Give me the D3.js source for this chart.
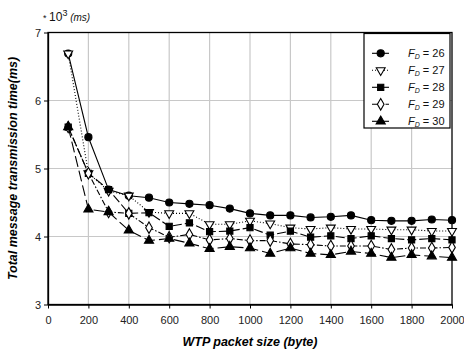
<!DOCTYPE html>
<html>
<head>
<meta charset="utf-8">
<script src="https://cdn.jsdelivr.net/npm/d3@7"></script>
<style>
  body { margin: 0; background: #fff; }
  svg { font-family: "Liberation Sans", Arial, sans-serif; }
</style>
</head>
<body>
<svg id="chart"></svg>
<script>
// packet sizes (byte)
var sizes = [100, 200, 300, 400, 500, 600, 700, 800, 900, 1000,
             1100, 1200, 1300, 1400, 1500, 1600, 1700, 1800, 1900, 2000];
// total transmission time, * 10^3 ms
var fd26 = [6.69, 5.46, 4.69, 4.60, 4.57, 4.50, 4.48, 4.46, 4.41, 4.34,
            4.31, 4.31, 4.28, 4.29, 4.31, 4.24, 4.23, 4.23, 4.25, 4.24];
var fd27 = [6.69, 4.93, 4.67, 4.60, 4.36, 4.34, 4.34, 4.18, 4.18, 4.23,
            4.19, 4.13, 4.11, 4.13, 4.11, 4.11, 4.10, 4.10, 4.08, 4.08];
var fd28 = [5.61, 4.93, 4.69, 4.34, 4.35, 4.15, 4.20, 4.07, 4.08, 4.13,
            4.02, 4.08, 3.99, 4.01, 3.97, 4.01, 3.97, 3.95, 3.97, 3.95];
var fd29 = [5.61, 4.93, 4.36, 4.34, 4.13, 3.99, 4.03, 3.95, 3.97, 3.94,
            3.94, 3.89, 3.88, 3.86, 3.86, 3.86, 3.81, 3.83, 3.83, 3.84];
var fd30 = [5.61, 4.40, 4.36, 4.09, 3.94, 3.97, 3.90, 3.82, 3.85, 3.83,
            3.75, 3.83, 3.75, 3.73, 3.78, 3.75, 3.69, 3.73, 3.71, 3.69];
var fdLabels = ["26", "27", "28", "29", "30"];
var xTicks = [0, 200, 400, 600, 800, 1000, 1200, 1400, 1600, 1800, 2000];
var yTicks = [3, 4, 5, 6, 7];

var svg = d3.select("#chart"),
    margin = {top: 32.5, right: 12, bottom: 49.5, left: 48},
    width = 464 - margin.left - margin.right,
    height = 354 - margin.top - margin.bottom;
svg.attr("width", 464).attr("height", 354);
var g = svg.append("g").attr("transform", "translate(" + margin.left + "," + margin.top + ")");

var x = d3.scaleLinear().domain([0, 2000]).range([0, width]),
    y = d3.scaleLinear().domain([3, 7]).range([height, 0]);

// gridlines
g.selectAll(".vgrid").data(xTicks.slice(1, -1)).enter().append("line")
    .attr("x1", function(d) { return x(d); }).attr("x2", function(d) { return x(d); })
    .attr("y1", 0).attr("y2", height)
    .attr("stroke", "#c8c8c8").attr("stroke-width", 1.2);
g.selectAll(".hgrid").data(yTicks.slice(1, -1)).enter().append("line")
    .attr("x1", 0).attr("x2", width)
    .attr("y1", function(d) { return y(d); }).attr("y2", function(d) { return y(d); })
    .attr("stroke", "#c8c8c8").attr("stroke-width", 1.2);

// frame
g.append("rect").attr("width", width).attr("height", height)
    .attr("fill", "none").attr("stroke", "#000").attr("stroke-width", 1.3);

var xAxis = d3.axisBottom(x).tickValues(xTicks).tickFormat(d3.format("d")).tickSize(4).tickSizeOuter(0);
var yAxis = d3.axisLeft(y).tickValues(yTicks).tickFormat(d3.format("d")).tickSize(4).tickSizeOuter(0);
var xg = g.append("g").attr("transform", "translate(0," + height + ")").call(xAxis);
var yg = g.append("g").call(yAxis);
[xg, yg].forEach(function(a) {
  a.select(".domain").attr("stroke", "#000").attr("stroke-width", 1.3);
  a.selectAll(".tick line").attr("stroke", "#000");
  a.selectAll(".tick text").attr("fill", "#222").style("font-size", "11px");
});
xg.selectAll(".tick text").attr("dy", "1.1em");
yg.selectAll(".tick text").attr("x", -7);

// series
var series = [
  {id: fdLabels[0], values: fd26, dash: null, sym: d3.symbolCircle, size: 40, fill: "#000", rot: 0},
  {id: fdLabels[1], values: fd27, dash: "1,2", sym: d3.symbolTriangle, size: 34, fill: "#fff", rot: 180},
  {id: fdLabels[2], values: fd28, dash: "9,3", sym: d3.symbolSquare, size: 38, fill: "#000", rot: 0},
  {id: fdLabels[3], values: fd29, dash: "6,2,1.5,2", sym: d3.symbolDiamond, size: 38, fill: "#fff", rot: 0},
  {id: fdLabels[4], values: fd30, dash: "11,4", sym: d3.symbolTriangle, size: 36, fill: "#000", rot: 0}
];

var line = d3.line()
    .x(function(d, i) { return x(sizes[i]); })
    .y(function(d) { return y(d); });

var sg = g.selectAll(".series").data(series).enter().append("g").attr("class", "series");
sg.append("path")
    .attr("d", function(d) { return line(d.values); })
    .attr("fill", "none").attr("stroke", "#000").attr("stroke-width", 1.1)
    .attr("stroke-dasharray", function(d) { return d.dash; });
sg.each(function(s) {
  d3.select(this).selectAll(".pt").data(s.values).enter().append("path")
      .attr("d", d3.symbol().type(s.sym).size(s.size))
      .attr("transform", function(d, i) {
        return "translate(" + x(sizes[i]) + "," + y(d) + ") rotate(" + s.rot + ")";
      })
      .attr("fill", s.fill).attr("stroke", "#000").attr("stroke-width", 1.1);
});

// legend
var lg = svg.append("g").attr("transform", "translate(364,33.5)");
lg.append("rect").attr("width", 86).attr("height", 94.5)
    .attr("fill", "#fff").attr("stroke", "#000").attr("stroke-width", 1.2);
var item = lg.selectAll(".item").data(series).enter().append("g")
    .attr("transform", function(d, i) { return "translate(0," + (19.8 + i * 17) + ")"; });
item.append("line").attr("x1", 8).attr("x2", 25)
    .attr("stroke", "#000").attr("stroke-width", 1.1)
    .attr("stroke-dasharray", function(d) { return d.dash === "1,2" ? "1,2" : d.dash === "6,2,1.5,2" ? "8,2,1.5,2" : null; });
item.append("path")
    .attr("d", function(d) { return d3.symbol().type(d.sym).size(d.size)(); })
    .attr("transform", function(d) { return "translate(16.7,0) rotate(" + d.rot + ")"; })
    .attr("fill", function(d) { return d.fill; }).attr("stroke", "#000").attr("stroke-width", 1.1);
var lt = item.append("text").attr("x", 44).attr("dy", "0.35em")
    .style("font-size", "11px").attr("fill", "#111");
lt.append("tspan").style("font-style", "italic").text("F");
lt.append("tspan").style("font-style", "italic").style("font-size", "7px").attr("dy", "2").text("D");
lt.append("tspan").attr("dy", "-2").text(function(d) { return " = " + d.id; });

// unit note
var unit = svg.append("text").attr("x", 43).attr("y", 21).attr("fill", "#111").style("font-size", "12px");
unit.append("tspan").style("font-size", "9px").text("* ");
unit.append("tspan").text("10");
unit.append("tspan").style("font-size", "9px").attr("dy", "-5").text("3");
unit.append("tspan").style("font-style", "italic").style("font-size", "10px").attr("dy", "5").text(" (ms)");

// axis titles
svg.append("text").attr("x", margin.left + width / 2).attr("y", 346)
    .attr("text-anchor", "middle").style("font-size", "12.5px")
    .style("font-weight", "bold").style("font-style", "italic")
    .text("WTP packet size (byte)");
svg.append("text")
    .attr("transform", "translate(17," + (margin.top + height / 2) + ") rotate(-90)")
    .attr("text-anchor", "middle").style("font-size", "12.5px")
    .style("font-weight", "bold").style("font-style", "italic")
    .text("Total message transmission time(ms)");
</script>
</body>
</html>
